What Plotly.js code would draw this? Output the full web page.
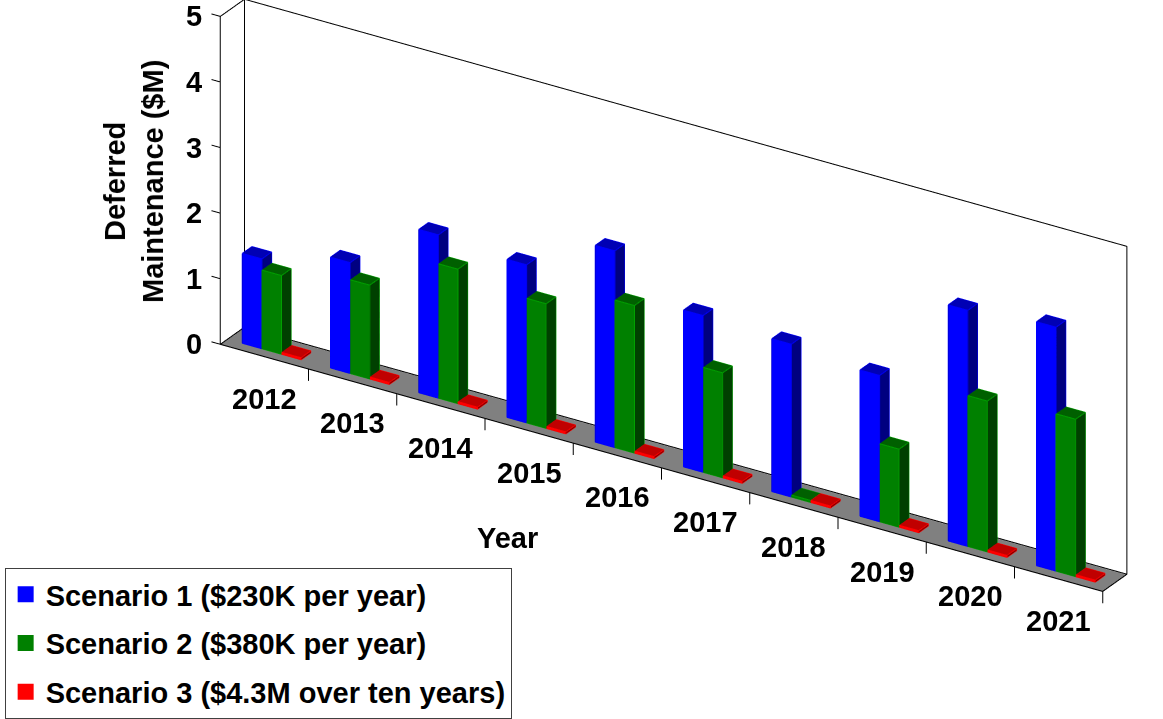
<!DOCTYPE html>
<html><head><meta charset="utf-8">
<script src="https://cdn.plot.ly/plotly-3.0.1.min.js"></script>
<style>html,body{margin:0;padding:0;background:#fff;}#chart{width:1163px;height:719px;}</style>
</head><body><div id="chart"></div>
<script>
// ---- data ----
const years = ['2012','2013','2014','2015','2016','2017','2018','2019','2020','2021'];
const scenario1 = [1.37, 1.69, 2.49, 2.41, 3.0, 2.39, 2.33, 2.23, 3.6, 3.72];
const scenario2 = [1.2, 1.43, 2.05, 1.9, 2.25, 1.6, 0.03, 1.19, 2.3, 2.4];
const scenario3 = [0.03, 0.03, 0.03, 0.03, 0.03, 0.03, 0.03, 0.03, 0.03, 0.03];
const seriesNames = ['Scenario 1 ($230K per year)', 'Scenario 2 ($380K per year)', 'Scenario 3 ($4.3M over ten years)'];
const zTickVals = [0, 1, 2, 3, 4, 5];
const zTickText = ['0', '1', '2', '3', '4', '5'];

// ---- styles ----
const FONT = {family: '"Liberation Sans", Arial, sans-serif', size: 29, color: '#000', weight: 'bold'};
const palettes = [
  {front: '#0000FF', side: '#000080', top: '#0000B4', edge: '#0000FF'},
  {front: '#008000', side: '#004000', top: '#006000', edge: '#00A000'},
  {front: '#FF0000', side: '#800000', top: '#C00000', edge: '#FF0000'}
];
const GAP = 0.167, BW = 0.222, D0 = 0.3, D1 = 0.7;
const ZMAX = 5, NCAT = years.length;
const FLAT = {ambient: 1, diffuse: 0, specular: 0, roughness: 1, fresnel: 0};

function barGeom(c, s) { const x0 = c + GAP + s * BW; return {x0: x0, x1: x0 + BW}; }

function barsTrace(values, s, name) {
  const pal = palettes[s];
  const X = [], Y = [], Z = [], I = [], J = [], K = [], FC = [];
  values.forEach((v, c) => {
    const g = barGeom(c, s), x0 = g.x0, x1 = g.x1;
    const b = X.length;
    const pts = [[x0,D0,0],[x1,D0,0],[x1,D1,0],[x0,D1,0],[x0,D0,v],[x1,D0,v],[x1,D1,v],[x0,D1,v]];
    pts.forEach(p => { X.push(p[0]); Y.push(p[1]); Z.push(p[2]); });
    const faces = [
      [0,1,5,'front'],[0,5,4,'front'],[1,2,6,'side'],[1,6,5,'side'],
      [4,5,6,'top'],[4,6,7,'top'],[0,3,7,'side'],[0,7,4,'side'],
      [3,2,6,'side'],[3,6,7,'side'],[0,1,2,'side'],[0,2,3,'side']
    ];
    faces.forEach(f => { I.push(b+f[0]); J.push(b+f[1]); K.push(b+f[2]); FC.push(pal[f[3]]); });
  });
  return {type: 'mesh3d', name: name, x: X, y: Y, z: Z, i: I, j: J, k: K,
    facecolor: FC, color: pal.front, flatshading: true, lighting: FLAT,
    showlegend: false, legendgroup: 'g' + s, hoverinfo: 'skip', showscale: false};
}
function edgesTrace(values, s) {
  const ex = [], ey = [], ez = [];
  const add = pts => { pts.forEach(p => { ex.push(p[0]); ey.push(p[1]); ez.push(p[2]); }); ex.push(null); ey.push(null); ez.push(null); };
  values.forEach((v, c) => {
    const g = barGeom(c, s), x0 = g.x0, x1 = g.x1;
    add([[x0,D0,v],[x1,D0,v],[x1,D1,v],[x0,D1,v],[x0,D0,v]]);
    add([[x0,D0,0],[x0,D0,v]]);
    add([[x1,D0,0],[x1,D0,v]]);
    add([[x1,D1,0],[x1,D1,v]]);
    add([[x0,D0,0],[x1,D0,0],[x1,D1,0]]);
  });
  return {type: 'scatter3d', mode: 'lines', x: ex, y: ey, z: ez, legendgroup: 'g' + s,
    line: {color: palettes[s].edge, width: 2}, showlegend: false, hoverinfo: 'skip', connectgaps: false};
}
// legend entries (square swatches) tied to the bar traces via legendgroup
function legendEntry(s) {
  return {type: 'scatter', mode: 'markers', x: [null], y: [null], name: seriesNames[s],
    legendgroup: 'g' + s, showlegend: true, hoverinfo: 'skip',
    marker: {symbol: 'square', size: 20, color: palettes[s].front, line: {width: 0}}};
}
const floorTrace = {type: 'mesh3d', x: [0, NCAT, NCAT, 0], y: [0, 0, 1, 1], z: [-0.01, -0.01, -0.01, -0.01],
  i: [0, 0], j: [1, 2], k: [2, 3], color: '#808080', flatshading: true, lighting: FLAT,
  showlegend: false, hoverinfo: 'skip'};
const fx = [], fy = [], fz = [];
function seg(pts) { pts.forEach(p => { fx.push(p[0]); fy.push(p[1]); fz.push(p[2]); }); fx.push(null); fy.push(null); fz.push(null); }
seg([[0,0,0],[NCAT,0,0],[NCAT,1,0],[0,1,0],[0,0,0]]);
seg([[0,0,0],[0,0,ZMAX],[0,1,ZMAX],[0,1,0]]);
seg([[0,1,ZMAX],[NCAT,1,ZMAX],[NCAT,1,0]]);
zTickVals.forEach(t => seg([[0,0,t],[-0.1,0,t]]));
for (let c = 1; c <= NCAT; c++) seg([[c,0,0],[c,0,-0.18]]);
const frameTrace = {type: 'scatter3d', mode: 'lines', x: fx, y: fy, z: fz,
  line: {color: '#000', width: 2}, showlegend: false, hoverinfo: 'skip', connectgaps: false};

const sceneAnn = [];
years.forEach((y, c) => sceneAnn.push({x: c + 0.5, y: 0, z: 0, text: y, showarrow: false,
  font: FONT, xanchor: 'center', yanchor: 'middle', yshift: -42}));
zTickVals.forEach((t, n) => sceneAnn.push({x: 0, y: 0, z: t, text: zTickText[n], showarrow: false,
  font: FONT, xanchor: 'right', yanchor: 'middle', xshift: -16}));

const data = [barsTrace(scenario1, 0, seriesNames[0]), barsTrace(scenario2, 1, seriesNames[1]),
  barsTrace(scenario3, 2, seriesNames[2]),
  edgesTrace(scenario1, 0), edgesTrace(scenario2, 1), edgesTrace(scenario3, 2),
  floorTrace, frameTrace,
  legendEntry(0), legendEntry(1), legendEntry(2)];

const layout = {
  width: 1163, height: 719, margin: {l: 0, r: 0, t: 0, b: 0}, paper_bgcolor: '#fff',
  plot_bgcolor: 'rgba(0,0,0,0)',
  font: FONT, showlegend: true, hovermode: false,
  xaxis: {visible: false}, yaxis: {visible: false},
  legend: {x: 0.004, y: 0, xanchor: 'left', yanchor: 'bottom',
    bgcolor: '#fff', bordercolor: '#404040', borderwidth: 1, font: FONT,
    traceorder: 'grouped', tracegroupgap: 8, itemwidth: 30},
  scene: {
    domain: {x: [0, 1], y: [0, 1]}, bgcolor: '#fff', aspectmode: 'manual',
    aspectratio: {x: 3.537, y: 0.1392, z: 1.63},
    xaxis: {range: [-2.144, 10.056], autorange: false, visible: false},
    yaxis: {range: [-0.05, 1.05], autorange: false, visible: false},
    zaxis: {range: [-2.872, 5.128], autorange: false, visible: false},
    camera: {eye: {x: 0.953, y: -1.516, z: 0.891}, center: {x: 0, y: 0, z: 0}, up: {x: 0, y: 0, z: 1},
      projection: {type: 'orthographic'}},
    annotations: sceneAnn
  },
  annotations: [
    {xref: 'paper', yref: 'paper', x: 0.1152, y: 0.7483, text: 'Deferred<br>Maintenance ($M)',
      textangle: -90, showarrow: false, font: FONT, xanchor: 'center', yanchor: 'middle'},
    {xref: 'paper', yref: 'paper', x: 0.4368, y: 0.2517, text: 'Year', showarrow: false,
      font: FONT, xanchor: 'center', yanchor: 'middle'}
  ]
};
Plotly.newPlot('chart', data, layout, {displayModeBar: false});
</script></body></html>
